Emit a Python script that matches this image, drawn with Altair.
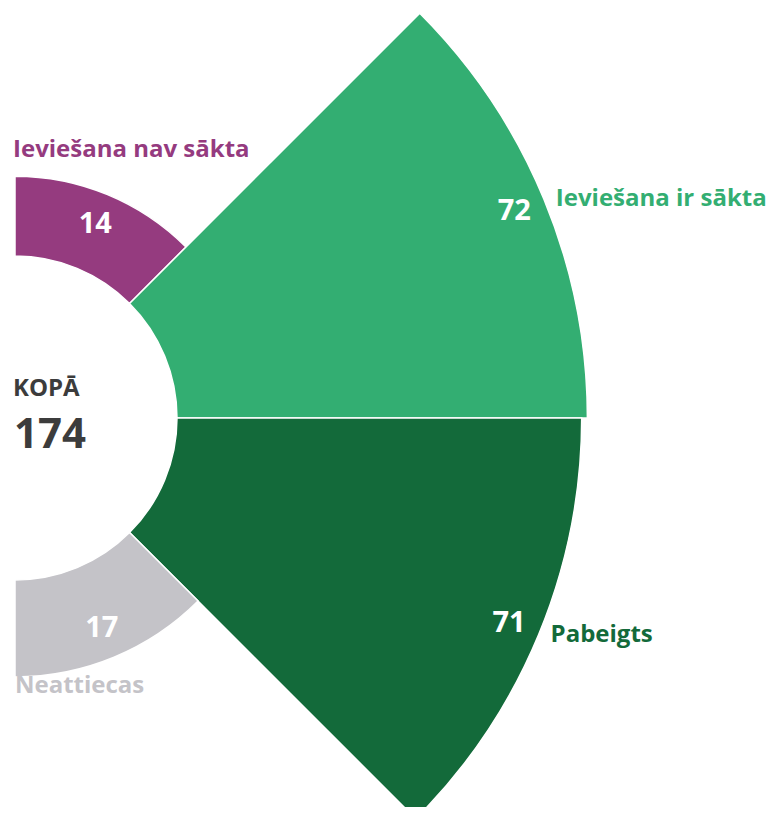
import math
import altair as alt
import pandas as pd

categories = ["Ieviešana nav sākta", "Ieviešana ir sākta", "Pabeigts", "Neattiecas"]
values = [14, 72, 71, 17]
colors = ["#953B7F", "#33AE72", "#136A3A", "#C4C3C8"]
label_colors = ["#953B7F", "#33AE72", "#136A3A", "#C8C8CC"]
total_label = "KOPĀ"

df = pd.DataFrame({
    "category": categories,
    "value": values,
    "one": [1] * len(categories),
    "idx": list(range(len(categories))),
})

CX, CY = 7, 410
INNER = 162
FONT = "Open Sans"
LSIZE = 24

theta_scale = alt.Scale(domain=[0, 4], range=[0, math.pi])
radius = alt.Radius("value:Q", scale=alt.Scale(type="linear", domain=[0, 72], range=[INNER, INNER + 72 * 5.7]))

base = alt.Chart(df).transform_window(
    end="sum(one)", sort=[alt.SortField("idx")], frame=[None, 0]
).transform_calculate(
    start="datum.end - 1", mid="datum.end - 0.5"
).encode(
    radius=radius,
    x=alt.value(CX),
    y=alt.value(CY),
)

arcs = base.mark_arc(stroke="white", strokeWidth=1.5).encode(
    theta=alt.Theta("start:Q", scale=theta_scale),
    theta2="end:Q",
    radius2=alt.value(INNER),
    color=alt.Color("category:N", scale=alt.Scale(domain=categories, range=colors), legend=None),
)

tmid = alt.Theta("mid:Q", scale=theta_scale)

value_text = base.mark_text(
    radiusOffset=-32, font=FONT, fontWeight="bold", fontSize=29, color="white",
    align="center", baseline="middle",
).encode(theta=tmid, text="value:Q")

lab_scale = alt.Scale(domain=categories, range=label_colors)

big_labels = base.mark_text(
    dx=12, align="left", baseline="middle", font=FONT, fontWeight="bold", fontSize=LSIZE,
).encode(
    theta=tmid,
    text="category:N",
    color=alt.Color("category:N", scale=lab_scale, legend=None),
).transform_filter(alt.FieldOneOfPredicate(field="category", oneOf=categories[1:3]))

top_label = base.mark_text(
    radiusOffset=26, dx=-2, align="left", baseline="middle",
    font=FONT, fontWeight="bold", fontSize=LSIZE,
).encode(
    theta=alt.Theta("start:Q", scale=theta_scale),
    text="category:N",
    color=alt.Color("category:N", scale=lab_scale, legend=None),
).transform_filter(alt.datum.category == categories[0])

bottom_label = base.mark_text(
    radiusOffset=9, dx=0, align="left", baseline="middle",
    font=FONT, fontWeight="bold", fontSize=LSIZE,
).encode(
    theta=alt.Theta("end:Q", scale=theta_scale),
    text="category:N",
    color=alt.Color("category:N", scale=lab_scale, legend=None),
).transform_filter(alt.datum.category == categories[3])

kopa = alt.Chart(df).transform_aggregate(total="sum(value)").transform_calculate(
    lbl=f"'{total_label}'"
).mark_text(
    align="left", baseline="middle", font=FONT, fontWeight="bold", fontSize=24, color="#3C3C3C"
).encode(x=alt.value(5), y=alt.value(381), text="lbl:N")

total = alt.Chart(df).transform_aggregate(total="sum(value)").mark_text(
    align="left", baseline="middle", font=FONT, fontWeight="bold", fontSize=42, color="#3C3C3C"
).encode(x=alt.value(6), y=alt.value(427), text="total:Q")

chart = alt.layer(arcs, value_text, big_labels, top_label, bottom_label, kopa, total).properties(
    width=761, height=799, padding=0, autosize=alt.AutoSizeParams(type="none")
).configure_view(stroke=None)

chart.save("out.html", embed_options={"renderer": "svg", "actions": False})
